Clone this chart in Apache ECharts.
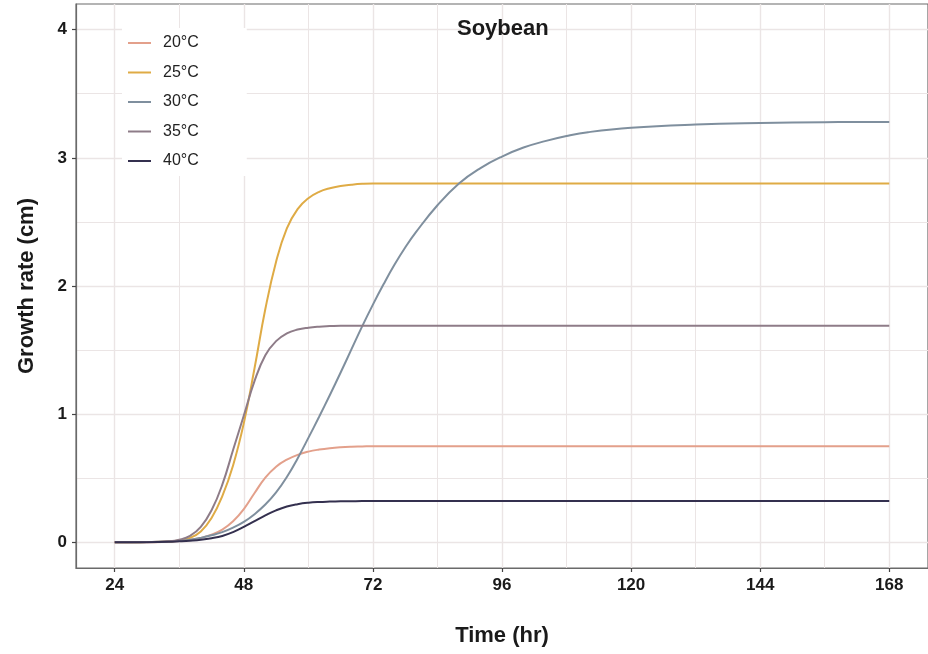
<!DOCTYPE html>
<html>
<head>
<meta charset="utf-8">
<script src="https://cdn.jsdelivr.net/npm/echarts@6/dist/echarts.min.js"></script>
<style>
  html, body { margin: 0; padding: 0; background: #ffffff; }
  #chart { width: 928px; height: 654px; }
</style>
</head>
<body>
<div id="chart"></div>
<script>
// ---- data ----
const chartTitle = 'Soybean';
const xTitle = 'Time (hr)';
const yTitle = 'Growth rate (cm)';
const seriesNames = ['20°C', '25°C', '30°C', '35°C', '40°C'];
const seriesColors = ['#E3A08B', '#DFAB45', '#7F8F9E', '#8E7C88', '#34304F'];

const xTicks = [24, 48, 72, 96, 120, 144, 168];
const xMinorTicks = [36, 60, 84, 108, 132, 156];
const yTicks = [0, 1, 2, 3, 4];
const yMinorTicks = [0.5, 1.5, 2.5, 3.5];

const times = [24, 30, 34, 36, 38, 40, 42, 44, 46, 48, 50, 52, 54, 56, 58, 60, 62, 64, 66, 68, 70, 72, 74, 76, 78, 80, 84, 88, 92, 96, 100, 104, 108, 112, 120, 132, 144, 156, 168];

const t20 = [0, 0, 0.005, 0.01, 0.02, 0.035, 0.06, 0.10, 0.165, 0.26, 0.385, 0.505, 0.59, 0.645, 0.683, 0.708, 0.724, 0.735, 0.742, 0.746, 0.748, 0.75, 0.75, 0.75, 0.75, 0.75, 0.75, 0.75, 0.75, 0.75, 0.75, 0.75, 0.75, 0.75, 0.75, 0.75, 0.75, 0.75, 0.75];
const t25 = [0, 0.002, 0.006, 0.014, 0.035, 0.085, 0.19, 0.36, 0.60, 0.93, 1.36, 1.82, 2.19, 2.45, 2.60, 2.685, 2.735, 2.763, 2.78, 2.79, 2.797, 2.80, 2.80, 2.80, 2.80, 2.80, 2.80, 2.80, 2.80, 2.80, 2.80, 2.80, 2.80, 2.80, 2.80, 2.80, 2.80, 2.80, 2.80];
const t30 = [0, 0.002, 0.006, 0.012, 0.02, 0.035, 0.055, 0.08, 0.115, 0.16, 0.22, 0.295, 0.39, 0.51, 0.655, 0.815, 0.98, 1.15, 1.325, 1.505, 1.685, 1.855, 2.015, 2.165, 2.30, 2.42, 2.63, 2.80, 2.92, 3.01, 3.08, 3.13, 3.17, 3.20, 3.235, 3.26, 3.272, 3.278, 3.28];
const t35 = [0, 0.002, 0.008, 0.02, 0.05, 0.12, 0.25, 0.45, 0.72, 0.99, 1.26, 1.46, 1.57, 1.63, 1.66, 1.675, 1.683, 1.687, 1.69, 1.69, 1.69, 1.69, 1.69, 1.69, 1.69, 1.69, 1.69, 1.69, 1.69, 1.69, 1.69, 1.69, 1.69, 1.69, 1.69, 1.69, 1.69, 1.69, 1.69];
const t40 = [0, 0.001, 0.004, 0.008, 0.013, 0.02, 0.032, 0.05, 0.08, 0.12, 0.165, 0.21, 0.25, 0.28, 0.298, 0.309, 0.315, 0.318, 0.32, 0.321, 0.322, 0.322, 0.322, 0.322, 0.322, 0.322, 0.322, 0.322, 0.322, 0.322, 0.322, 0.322, 0.322, 0.322, 0.322, 0.322, 0.322, 0.322, 0.322];
const seriesValues = [t20, t25, t30, t35, t40];

// ---- chart ----
const FONT = '"Liberation Sans", Arial, Helvetica, sans-serif';
const chart = echarts.init(document.getElementById('chart'), null, { renderer: 'canvas' });

const gridLineColor = '#EBE5E5';

const option = {
  backgroundColor: '#ffffff',
  animation: false,
  title: {
    text: chartTitle,
    left: 457,
    top: 18,
    padding: 0,
    textStyle: { fontFamily: FONT, fontSize: 22, fontWeight: 'bold', color: '#1a1a1a' }
  },
  legend: {
    orient: 'vertical',
    left: 122,
    top: 28,
    padding: [6, 48, 6, 5],
    backgroundColor: '#ffffff',
    itemWidth: 23,
    itemHeight: 18,
    itemGap: 11.5,
    itemStyle: { opacity: 0 },
    data: seriesNames,
    textStyle: { fontFamily: FONT, fontSize: 16, color: '#222222', padding: [0, 0, 0, 7], lineHeight: 18 }
  },
  grid: {
    left: 76,
    top: 4,
    width: 856,
    height: 564,
    show: true,
    backgroundColor: '#ffffff',
    borderColor: '#6a6a6a',
    borderWidth: 1.2
  },
  xAxis: [
    {
      type: 'value',
      min: 16.8,
      max: 175.2,
      name: xTitle,
      nameLocation: 'middle',
      nameGap: 57,
      nameTextStyle: { fontFamily: FONT, fontSize: 22, fontWeight: 'bold', color: '#1a1a1a' },
      axisLine: { show: true, onZero: false, lineStyle: { color: '#6a6a6a', width: 1.2 } },
      axisTick: { show: true, length: 4, customValues: xTicks, lineStyle: { color: '#444444', width: 1.2 } },
      axisLabel: { show: true, customValues: xTicks, margin: 9, fontFamily: FONT, fontSize: 17, fontWeight: 'bold', color: '#1a1a1a' },
      splitLine: { show: true, lineStyle: { color: gridLineColor, width: 1.4 } }
    },
    {
      type: 'value',
      min: 16.8,
      max: 175.2,
      axisLine: { show: false, onZero: false },
      axisTick: { show: false, customValues: xMinorTicks },
      axisLabel: { show: false, customValues: xMinorTicks },
      splitLine: { show: true, lineStyle: { color: gridLineColor, width: 1 } }
    }
  ],
  yAxis: [
    {
      type: 'value',
      min: -0.2,
      max: 4.2,
      name: yTitle,
      nameLocation: 'middle',
      nameGap: 38,
      nameRotate: 90,
      nameTextStyle: { fontFamily: FONT, fontSize: 22, fontWeight: 'bold', color: '#1a1a1a' },
      axisLine: { show: true, onZero: false, lineStyle: { color: '#6a6a6a', width: 1.2 } },
      axisTick: { show: true, length: 4, customValues: yTicks, lineStyle: { color: '#444444', width: 1.2 } },
      axisLabel: { show: true, customValues: yTicks, margin: 9, fontFamily: FONT, fontSize: 17, fontWeight: 'bold', color: '#1a1a1a' },
      splitLine: { show: true, lineStyle: { color: gridLineColor, width: 1.4 } }
    },
    {
      type: 'value',
      min: -0.2,
      max: 4.2,
      axisLine: { show: false, onZero: false },
      axisTick: { show: false, customValues: yMinorTicks },
      axisLabel: { show: false, customValues: yMinorTicks },
      splitLine: { show: true, lineStyle: { color: gridLineColor, width: 1 } }
    }
  ],
  series: seriesNames.map((name, i) => ({
    name: name,
    type: 'line',
    xAxisIndex: 0,
    yAxisIndex: 0,
    data: times.map((t, j) => [t, seriesValues[i][j]]),
    smooth: 0.45,
    symbol: 'none',
    showSymbol: false,
    color: seriesColors[i],
    lineStyle: { color: seriesColors[i], width: 2 },
    z: 3 + i
  }))
};

chart.setOption(option);
</script>
</body>
</html>
